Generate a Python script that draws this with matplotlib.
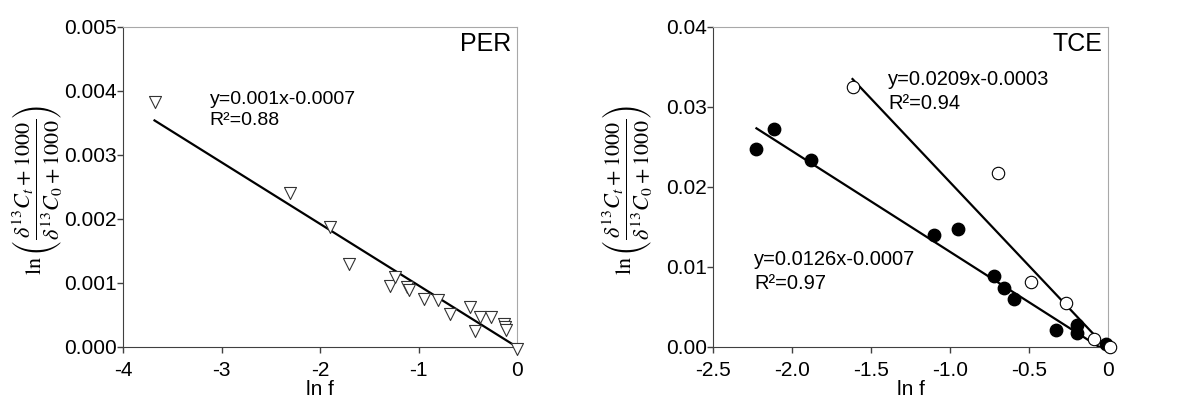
import numpy as np
import matplotlib
matplotlib.use("Agg")
import matplotlib.pyplot as plt

plt.rcParams['font.family'] = ['Liberation Sans', 'DejaVu Sans']
plt.rcParams['mathtext.fontset'] = 'stix'

# PER data
per_lnf = [-3.68, -2.305, -1.90, -1.71, -1.29, -1.24, -1.12, -1.10, -0.94, -0.80,
           -0.68, -0.475, -0.43, -0.38, -0.26, -0.135, -0.12, -0.11, 0.005]
per_y = [0.00383, 0.00240, 0.00187, 0.00130, 0.00096, 0.00109, 0.00094, 0.00089,
         0.000755, 0.00073, 0.00052, 0.000625, 0.00025, 0.00047, 0.00047,
         0.000365, 0.00031, 0.00027, -0.00003]
per_fit = (-0.000962, 0.0, -3.68)  # slope, intercept, start of line

# TCE data: filled circles
tce_a_lnf = [-2.225, -2.114, -1.879, -1.102, -0.947, -0.72, -0.657, -0.593,
             -0.328, -0.195, -0.195, -0.01]
tce_a_y = [0.0248, 0.0273, 0.0234, 0.0140, 0.0147, 0.0089, 0.0074, 0.0060,
           0.00217, 0.0027, 0.0018, 0.0004]
tce_a_fit = (-0.0126, -0.0007, -2.225)

# TCE data: open circles
tce_b_lnf = [-1.617, -0.699, -0.487, -0.265, -0.089, 0.01]
tce_b_y = [0.0325, 0.0218, 0.0081, 0.00554, 0.00104, 0.0]
tce_b_fit = (-0.0209, -0.0003, -1.617)

ylab = r'$\ln\left(\dfrac{\delta^{13}C_t+1000}{\delta^{13}C_0+1000}\right)$'

fig = plt.figure(figsize=(11.84, 3.98), dpi=100)
ax1 = fig.add_axes([123/1184, 1 - 347/398, 394/1184, 320/398])
ax2 = fig.add_axes([713/1184, 1 - 347/398, 395/1184, 320/398])


def style(ax):
    for s in ['top', 'right']:
        ax.spines[s].set_color('#a8a8a8')
    for s in ['left', 'bottom']:
        ax.spines[s].set_color('#404040')
    ax.tick_params(direction='out', length=4, width=1, color='#404040',
                   labelsize=15)
    ax.tick_params(axis='x', pad=6)
    ax.tick_params(axis='y', pad=0.5)
    ax.set_xlabel('ln f', fontsize=15, labelpad=0)
    ax.set_ylabel(ylab, fontsize=16)
    ax.yaxis.set_label_coords(-0.15, 0.49)


def fit_line(ax, fit):
    m, b, x0 = fit
    xs = np.array([x0, 0.0])
    ax.plot(xs, m * xs + b, color='black', lw=1.6)


# left panel
ax1.scatter(per_lnf, per_y, marker='v', s=75, facecolors='white',
            edgecolors='#333333', linewidths=0.8, zorder=3, clip_on=False)
fit_line(ax1, per_fit)
ax1.set_xlim(-4, 0)
ax1.set_ylim(0, 0.005)
ax1.set_xticks([-4, -3, -2, -1, 0])
ax1.set_xticklabels(['-4', '-3', '-2', '-1', '0'])
ax1.set_yticks([0, 0.001, 0.002, 0.003, 0.004, 0.005])
ax1.set_yticklabels(['0.000', '0.001', '0.002', '0.003', '0.004', '0.005'])
style(ax1)
ax1.text(0.985, 0.985, 'PER', transform=ax1.transAxes, ha='right', va='top',
         fontsize=18)
ax1.text(-3.12, 0.0040, 'y=0.001x-0.0007\nR²=0.88', fontsize=14,
         va='top', linespacing=1.3)

# right panel
ax2.scatter(tce_a_lnf, tce_a_y, marker='o', s=80, color='black', zorder=3,
            clip_on=False)
ax2.scatter(tce_b_lnf, tce_b_y, marker='o', s=80, facecolors='white',
            edgecolors='black', linewidths=0.8, zorder=3, clip_on=False)
fit_line(ax2, tce_a_fit)
fit_line(ax2, tce_b_fit)
ax2.set_xlim(-2.5, 0)
ax2.set_ylim(0, 0.04)
ax2.set_xticks([-2.5, -2.0, -1.5, -1.0, -0.5, 0])
ax2.set_xticklabels(['-2.5', '-2.0', '-1.5', '-1.0', '-0.5', '0'])
ax2.set_yticks([0, 0.01, 0.02, 0.03, 0.04])
ax2.set_yticklabels(['0.00', '0.01', '0.02', '0.03', '0.04'])
style(ax2)
ax2.text(0.985, 0.985, 'TCE', transform=ax2.transAxes, ha='right', va='top',
         fontsize=18)
ax2.text(-1.39, 0.0346, 'y=0.0209x-0.0003\nR²=0.94', fontsize=14.5,
         va='top', linespacing=1.3)
ax2.text(-2.24, 0.0121, 'y=0.0126x-0.0007\nR²=0.97', fontsize=14.5,
         va='top', linespacing=1.3)

fig.savefig('out.png', dpi=100)
